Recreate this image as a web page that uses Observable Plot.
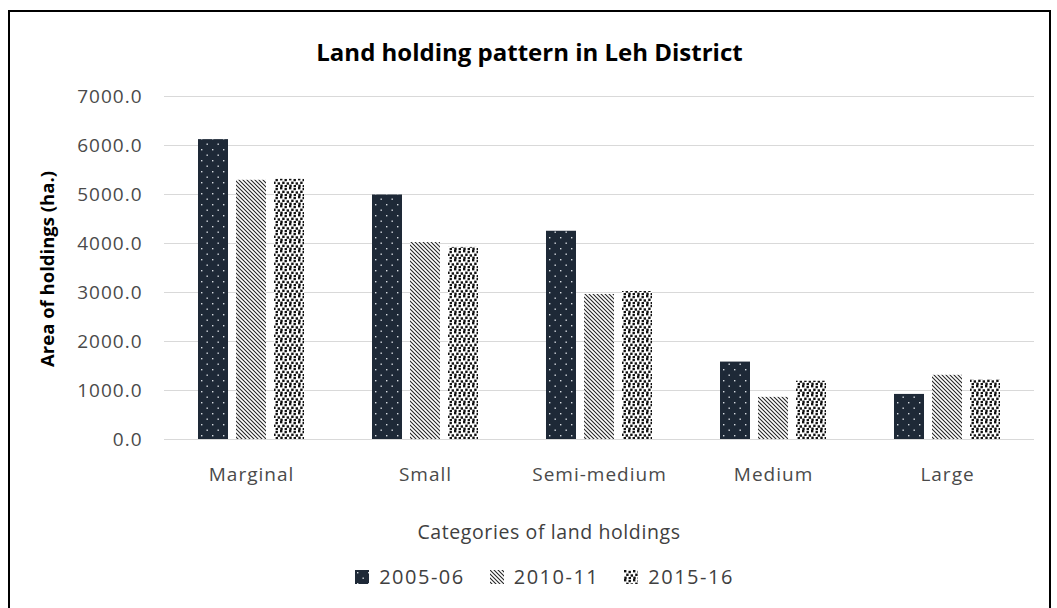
<!DOCTYPE html>
<html>
<head>
<meta charset="utf-8">
<script src="https://cdn.jsdelivr.net/npm/d3@7"></script>
<script src="https://cdn.jsdelivr.net/npm/@observablehq/plot@0.6"></script>
<style>
  html, body { margin: 0; padding: 0; background: #fff; width: 1057px; height: 608px; overflow: hidden; }
  body { position: relative; font-family: "Open Sans", sans-serif; }
  #frame { position: absolute; left: 8px; top: 10px; width: 1039px; height: 640px; border: 2px solid #000; box-sizing: content-box; }
  #title { position: absolute; left: 0; top: 37px; width: 1059px; text-align: center; font-size: 24px; font-weight: bold; color: #000; line-height: 30px; }
  #chart { position: absolute; left: 0; top: 70px; }
  #chart svg text { letter-spacing: 1px; }
  #ytitle { position: absolute; left: 46px; top: 269px; transform: translate(-50%, -50%) rotate(-90deg); white-space: nowrap; font-size: 18.5px; font-weight: bold; color: #000; }
  #xtitle { position: absolute; left: 0; top: 518px; width: 1098px; text-align: center; font-size: 19.5px; color: #404040; letter-spacing: 0.6px; line-height: 28px; }
  #legend { position: absolute; left: 0; top: 560px; width: 1114px; display: flex; justify-content: center; }
  .lg-swatches { font-family: "Open Sans", sans-serif !important; font-size: 20px !important; color: #404040 !important; letter-spacing: 1.5px; }
  .lg-swatch { margin-right: 25px !important; }
</style>
</head>
<body>
<svg width="0" height="0" style="position:absolute">
  <defs>
    <pattern id="p2005" patternUnits="userSpaceOnUse" width="11" height="11">
      <rect width="11" height="11" fill="#1e2937"/>
      <rect x="2" y="2" width="1.4" height="1.4" fill="#d8dce2"/>
      <rect x="7.5" y="7.5" width="1.4" height="1.4" fill="#d8dce2"/>
    </pattern>
    <pattern id="p2010" patternUnits="userSpaceOnUse" width="4" height="4">
      <rect width="4" height="4" fill="#fff"/>
      <path d="M-1,-1L5,5M3,-1L5,1M-1,3L1,5" stroke="#262626" stroke-width="1.1"/>
    </pattern>
    <pattern id="p2015" patternUnits="userSpaceOnUse" width="9" height="9">
      <rect width="9" height="9" fill="#fff"/>
      <rect x="0" y="0" width="2.4" height="2.4" fill="#111"/>
      <rect x="4.5" y="0.8" width="2.4" height="2.4" fill="#111"/>
      <rect x="2.2" y="3.6" width="2.4" height="2.4" fill="#111"/>
      <rect x="6.6" y="4.3" width="2.4" height="2.4" fill="#111"/>
      <rect x="0.3" y="6.6" width="2.4" height="2.4" fill="#111"/>
      <rect x="4.6" y="7" width="2.4" height="2" fill="#111"/>
    </pattern>
  </defs>
</svg>
<div id="frame"></div>
<div id="title">Land holding pattern in Leh District</div>
<div id="chart"></div>
<div id="ytitle">Area of holdings (ha.)</div>
<div id="xtitle">Categories of land holdings</div>
<div id="legend"></div>
<script>
const categories = ["Marginal", "Small", "Semi-medium", "Medium", "Large"];
const seriesNames = ["2005-06", "2010-11", "2015-16"];
const v2005 = [6120, 4990, 4250, 1580, 920];
const v2010 = [5290, 4020, 2960, 860, 1310];
const v2015 = [5310, 3920, 3020, 1190, 1220];
const yTicks = [0, 1000, 2000, 3000, 4000, 5000, 6000, 7000];
const seriesFills = ["url(#p2005)", "url(#p2010)", "url(#p2015)"];

const valuesBySeries = [v2005, v2010, v2015];
const data = [];
categories.forEach((c, i) => {
  seriesNames.forEach((s, j) => {
    data.push({category: c, series: s, value: valuesBySeries[j][i]});
  });
});

const chart = Plot.plot({
  width: 1057,
  height: 430,
  marginTop: 26,
  marginBottom: 61,
  marginLeft: 163,
  marginRight: 22,
  style: {fontFamily: "Open Sans, sans-serif", fontSize: "19px", color: "#4a4a4a", background: "transparent"},
  fx: {domain: categories, padding: 0, label: null, tickSize: 0, tickPadding: 28},
  x: {domain: seriesNames, paddingInner: 0.2, paddingOuter: 0.85, axis: null},
  y: {domain: [0, 7000], ticks: yTicks, tickFormat: d3.format(".1f"), tickSize: 0, tickPadding: 22, label: null},
  color: {domain: seriesNames, range: seriesFills},
  marks: [
    Plot.ruleY(yTicks, {stroke: "#d9d9d9", strokeWidth: 1}),
    Plot.barY(data, {fx: "category", x: "series", y: "value", fill: "series"})
  ]
});
document.getElementById("chart").appendChild(chart);

const legend = Plot.legend({
  color: {domain: seriesNames, range: seriesFills},
  swatchSize: 14,
  className: "lg",
  style: {fontFamily: "Open Sans, sans-serif", fontSize: "20px", color: "#404040"}
});
document.getElementById("legend").appendChild(legend);
</script>
</body>
</html>
